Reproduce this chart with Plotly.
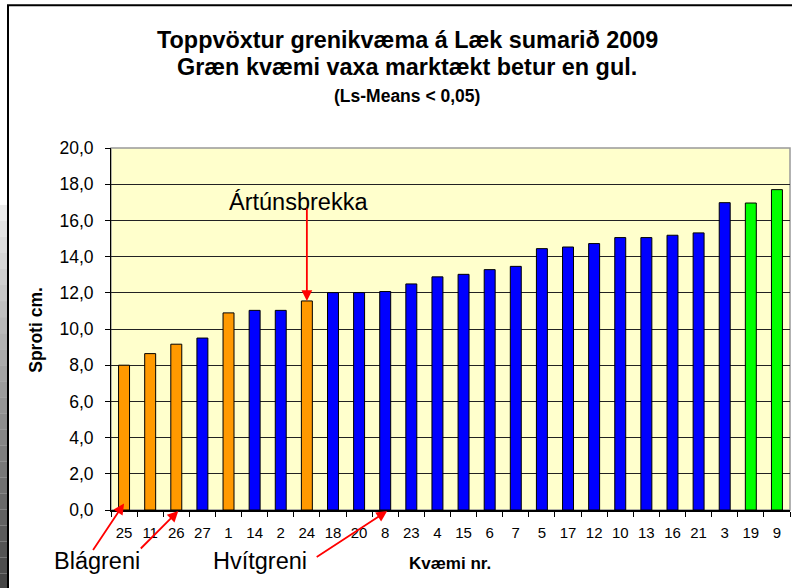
import plotly.graph_objects as go

# ---- data ----
kvaemi = ["25", "11", "26", "27", "1", "14", "2", "24", "18", "20", "8", "23", "4",
          "15", "6", "7", "5", "17", "12", "10", "13", "16", "21", "3", "19", "9"]
sproti = [8.0, 8.64, 9.16, 9.5, 10.89, 11.03, 11.03, 11.55, 12.01, 12.01, 12.07, 12.49, 12.88,
          13.02, 13.28, 13.46, 14.44, 14.53, 14.72, 15.05, 15.05, 15.18, 15.31, 16.98, 16.96, 17.7]
hopur = ["o", "o", "o", "b", "o", "b", "b", "o", "b", "b", "b", "b", "b",
         "b", "b", "b", "b", "b", "b", "b", "b", "b", "b", "b", "g", "g"]
litir = {"o": "#FF9900", "b": "#0000FF", "g": "#00FF00"}

title1 = "Toppvöxtur grenikvæma á Læk sumarið 2009"
title2 = "Græn kvæmi vaxa marktækt betur en gul."
title3 = "(Ls-Means < 0,05)"
ytitle = "Sproti cm."
xtitle = "Kvæmi nr."

FONT = "Liberation Sans, Arial, sans-serif"

W, H = 792, 588
L, R, T, B = 111, 2, 148, 77.5
pw, ph = W - L - R, H - T - B


def px(x):
    return (x - L) / pw


def py(y):
    return (H - B - y) / ph


fig = go.Figure()
fig.add_trace(go.Bar(
    x=kvaemi, y=sproti,
    marker=dict(color=[litir[h] for h in hopur], line=dict(color="black", width=1)),
    hoverinfo="x+y",
))

shapes = []
# left slide background gradient strip
n = 24
y_start, y_end = 205, 590
for i in range(n):
    ya = y_start + (y_end - y_start) * i / n
    yb = y_start + (y_end - y_start) * (i + 1) / n
    g = int(235 - (235 - 70) * i / (n - 1))
    shapes.append(dict(type="rect", xref="paper", yref="paper",
                       x0=px(-2), x1=px(8), y0=py(yb), y1=py(ya),
                       fillcolor=f"rgb({g},{g},{g})", line=dict(width=0), layer="below"))
# chart border
shapes.append(dict(type="rect", xref="paper", yref="paper",
                   x0=px(8), x1=px(900), y0=py(700), y1=py(5),
                   line=dict(color="black", width=2), fillcolor="rgba(0,0,0,0)"))
# plot area border (gray)
shapes.append(dict(type="rect", xref="paper", yref="paper", x0=0, x1=1, y0=0, y1=1,
                   line=dict(color="#999999", width=1.5), layer="below"))

ann = []
ann.append(dict(text=f"<b>{title1}</b>", xref="paper", yref="paper", x=px(407), y=py(40),
                showarrow=False, font=dict(family=FONT, size=23.4, color="black"),
                xanchor="center", yanchor="middle"))
ann.append(dict(text=f"<b>{title2}</b>", xref="paper", yref="paper", x=px(407), y=py(67),
                showarrow=False, font=dict(family=FONT, size=23.4, color="black"),
                xanchor="center", yanchor="middle"))
ann.append(dict(text=f"<b>{title3}</b>", xref="paper", yref="paper", x=px(407), y=py(96),
                showarrow=False, font=dict(family=FONT, size=17.5, color="black"),
                xanchor="center", yanchor="middle"))
ann.append(dict(text=f"<b>{ytitle}</b>", xref="paper", yref="paper", x=px(36), y=py(330),
                showarrow=False, textangle=-90, font=dict(family=FONT, size=17.5, color="black"),
                xanchor="center", yanchor="middle"))
ann.append(dict(text=f"<b>{xtitle}</b>", xref="paper", yref="paper", x=px(450), y=py(564),
                showarrow=False, font=dict(family=FONT, size=17, color="black"),
                xanchor="center", yanchor="middle"))

# labels
ann.append(dict(text="Ártúnsbrekka", xref="paper", yref="paper", x=px(298), y=py(202),
                showarrow=False, font=dict(family=FONT, size=23.5, color="black"),
                xanchor="center", yanchor="middle"))
ann.append(dict(text="Blágreni", xref="paper", yref="paper", x=px(97), y=py(562),
                showarrow=False, font=dict(family=FONT, size=23.5, color="black"),
                xanchor="center", yanchor="middle"))
ann.append(dict(text="Hvítgreni", xref="paper", yref="paper", x=px(260), y=py(562),
                showarrow=False, font=dict(family=FONT, size=23.5, color="black"),
                xanchor="center", yanchor="middle"))

arrow = dict(showarrow=True, arrowhead=2, arrowsize=1.2, arrowwidth=1.8, arrowcolor="red",
             text="", xref="x", yref="y")
i24 = kvaemi.index("24")
ann.append(dict(arrow, x=i24, y=sproti[i24], ax=0, ay=-94))
ann.append(dict(arrow, x=kvaemi.index("25"), y=0.36, ax=-32, ay=48))
ann.append(dict(arrow, x=kvaemi.index("26"), y=0, ax=-39, ay=39, xshift=2, yshift=-1))
ann.append(dict(arrow, x=kvaemi.index("8"), y=0, ax=-72, ay=47, xshift=2, yshift=-1))

fig.update_layout(
    width=W, height=H,
    margin=dict(l=L, r=R, t=T, b=B, pad=0, autoexpand=False),
    paper_bgcolor="white",
    plot_bgcolor="#FFFFCC",
    separators=",.",
    bargap=0.58,
    showlegend=False,
    font=dict(family=FONT, color="black"),
    shapes=shapes,
    annotations=ann,
)
fig.update_yaxes(
    range=[0, 20], dtick=2, tickformat=".1f", automargin=False,
    showgrid=True, gridcolor="#222222", gridwidth=1,
    showline=True, linecolor="black", linewidth=1,
    ticks="outside", ticklen=5, tickcolor="black",
    tickfont=dict(family=FONT, size=17.5, color="black"),
    ticklabelstandoff=8, zeroline=False,
)
fig.update_xaxes(
    type="category", automargin=False, tickangle=0,
    range=[-0.5, len(kvaemi) - 0.5], autorange=False,
    showline=True, linecolor="black", linewidth=1.5,
    ticks="outside", ticklen=5, tickcolor="black", tickson="boundaries",
    tickfont=dict(family=FONT, size=15, color="black"),
    ticklabelstandoff=8, showgrid=False,
)

fig.write_html("out.html", config={"displayModeBar": False},
               post_script="document.body.style.margin='0';")
